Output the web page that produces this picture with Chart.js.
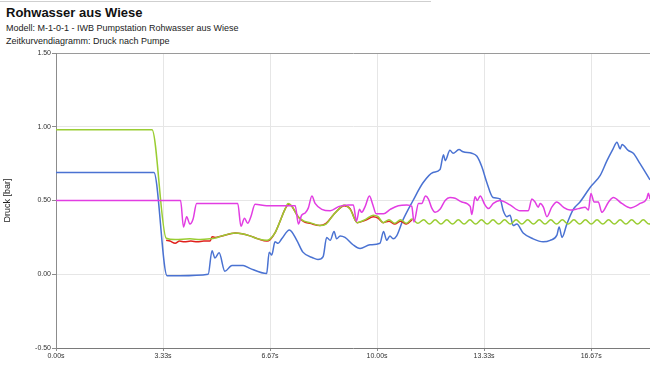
<!DOCTYPE html>
<html>
<head>
<meta charset="utf-8">
<script src="https://cdn.jsdelivr.net/npm/chart.js@4.4.1/dist/chart.umd.min.js"></script>
<style>
    body { margin: 0; background: #fff; font-family: "Liberation Sans", Arial, Helvetica, sans-serif; }
    #wrap { position: relative; width: 650px; height: 366px; overflow: hidden; }
    #topline { position: absolute; left: 0; top: 1px; width: 431px; height: 1px; background: #cfcfcf; }
    .titel { position: absolute; left: 6px; top: 5px; font-size: 13px; font-weight: bold; color: #111; white-space: nowrap; }
    .sub { position: absolute; left: 6px; font-size: 9px; color: #222; white-space: nowrap; }
    canvas { position: absolute; left: 0; top: 0; }
</style>
</head>
<body>
<div id="wrap">
    <div id="topline"></div>
    <div class="titel">Rohwasser aus Wiese</div>
    <div class="sub" style="top:23px">Modell: M-1-0-1 - IWB Pumpstation Rohwasser aus Wiese</div>
    <div class="sub" style="top:36px">Zeitkurvendiagramm: Druck nach Pumpe</div>
    <canvas id="druckChart" width="650" height="366"></canvas>
</div>
<script>
// Achsen
const zeitTicks = [0, 10 / 3, 20 / 3, 10, 40 / 3, 50 / 3];
const zeitLabels = ['0.00s', '3.33s', '6.67s', '10.00s', '13.33s', '16.67s'];
const druckTicks = [-0.5, 0, 0.5, 1, 1.5];

// Messreihen [Zeit s, Druck bar]
const gruen = [
    [0, 0.98], [2.99, 0.98], [3.43, 0.245], [3.71, 0.235], [4.17, 0.24], [4.49, 0.235], [4.80, 0.24],
    [4.95, 0.245], [5.17, 0.26], [5.58, 0.28], [5.79, 0.275], [6.04, 0.26], [6.29, 0.24], [6.57, 0.23],
    [6.67, 0.24], [6.82, 0.28], [6.98, 0.36], [7.13, 0.44], [7.23, 0.48], [7.35, 0.46], [7.54, 0.39],
    [7.73, 0.36], [7.91, 0.35], [8.22, 0.33], [8.41, 0.34], [8.63, 0.40], [8.85, 0.45], [8.97, 0.47],
    [9.16, 0.44], [9.38, 0.35], [9.63, 0.37], [9.88, 0.40], [10.03, 0.39], [10.19, 0.35],
    [10.37, 0.37], [10.55, 0.345], [10.73, 0.37], [10.91, 0.345], [11.09, 0.375], [11.27, 0.345],
    [11.45, 0.37], [11.63, 0.34], [11.81, 0.37], [11.99, 0.34], [12.17, 0.37], [12.35, 0.34],
    [12.53, 0.37], [12.71, 0.34], [12.89, 0.37], [13.07, 0.34], [13.25, 0.37], [13.43, 0.34],
    [13.61, 0.37], [13.79, 0.34], [13.97, 0.37], [14.15, 0.34], [14.33, 0.37], [14.51, 0.34],
    [14.69, 0.37], [14.87, 0.34], [15.05, 0.37], [15.23, 0.34], [15.41, 0.37], [15.59, 0.34],
    [15.77, 0.37], [15.95, 0.34], [16.13, 0.37], [16.31, 0.34], [16.49, 0.37], [16.67, 0.34],
    [16.85, 0.37], [17.03, 0.34], [17.21, 0.37], [17.39, 0.34], [17.57, 0.37], [17.75, 0.34],
    [17.93, 0.37], [18.11, 0.34], [18.29, 0.37], [18.47, 0.34], [18.65, 0.37]
];
const rot = [
    [3.43, 0.23], [3.55, 0.225], [3.71, 0.21], [3.85, 0.225], [4.0, 0.22],
    [4.2, 0.225], [4.4, 0.22], [4.6, 0.225], [4.80, 0.225], [4.86, 0.255], [4.95, 0.25], [5.17, 0.26],
    [5.58, 0.28], [5.79, 0.275], [6.04, 0.26], [6.29, 0.24], [6.57, 0.225], [6.67, 0.235], [6.82, 0.28],
    [6.98, 0.36], [7.13, 0.44], [7.25, 0.475], [7.35, 0.46], [7.54, 0.39], [7.73, 0.355], [7.91, 0.345],
    [8.22, 0.33], [8.41, 0.345], [8.63, 0.40], [8.85, 0.45], [8.97, 0.465], [9.16, 0.445], [9.38, 0.35],
    [9.63, 0.365], [9.88, 0.39], [10.03, 0.38], [10.19, 0.35], [10.37, 0.36], [10.55, 0.34],
    [10.73, 0.36], [10.91, 0.34], [11.09, 0.37]
];
const blau = [
    [0, 0.69], [3.05, 0.69], [3.46, -0.01], [3.86, -0.01], [4.74, 0.0], [4.86, 0.16], [4.95, 0.11],
    [5.08, 0.145], [5.26, 0.02], [5.48, 0.06], [5.83, 0.06], [6.04, 0.04], [6.56, 0.005], [6.64, 0.15],
    [6.72, 0.13], [6.82, 0.22], [6.92, 0.21], [7.03, 0.24], [7.27, 0.30], [7.50, 0.23], [7.69, 0.15],
    [8.01, 0.11], [8.16, 0.10], [8.32, 0.12], [8.43, 0.25], [8.54, 0.23], [8.66, 0.29], [8.74, 0.24],
    [8.85, 0.26], [9.00, 0.25], [9.25, 0.20], [9.47, 0.175], [9.78, 0.20], [10.09, 0.21], [10.20, 0.29],
    [10.30, 0.23], [10.40, 0.26], [10.50, 0.24], [10.61, 0.26], [10.81, 0.37], [11.12, 0.50],
    [11.43, 0.62], [11.74, 0.69], [11.96, 0.71], [12.07, 0.81], [12.12, 0.77], [12.27, 0.84],
    [12.37, 0.82], [12.55, 0.845], [12.68, 0.83], [12.95, 0.82], [13.11, 0.80], [13.26, 0.73],
    [13.42, 0.62], [13.61, 0.52], [13.83, 0.51], [13.93, 0.43], [14.04, 0.39], [14.14, 0.40],
    [14.24, 0.33], [14.35, 0.34], [14.55, 0.28], [14.86, 0.24], [15.17, 0.22], [15.39, 0.23],
    [15.60, 0.265], [15.67, 0.32], [15.76, 0.25], [15.91, 0.34], [16.11, 0.44], [16.32, 0.49],
    [16.64, 0.59], [16.95, 0.67], [17.16, 0.77], [17.35, 0.85], [17.47, 0.895], [17.57, 0.85],
    [17.63, 0.88], [17.82, 0.84], [17.98, 0.82], [18.19, 0.75], [18.50, 0.64]
];
const magenta = [
    [0, 0.50], [3.88, 0.50], [3.97, 0.32], [4.07, 0.39], [4.17, 0.34], [4.27, 0.375], [4.38, 0.48],
    [5.66, 0.48], [5.76, 0.325], [5.87, 0.38], [5.97, 0.345], [6.07, 0.39], [6.20, 0.475], [6.56, 0.465],
    [7.19, 0.465], [7.45, 0.465], [7.55, 0.34], [7.65, 0.40], [7.76, 0.415], [7.86, 0.45], [7.97, 0.53],
    [8.07, 0.48], [8.28, 0.44], [8.54, 0.43], [8.82, 0.46], [9.11, 0.47], [9.26, 0.47], [9.36, 0.36],
    [9.45, 0.44], [9.52, 0.42], [9.63, 0.46], [9.76, 0.53], [9.87, 0.47], [9.97, 0.41], [10.20, 0.41],
    [10.41, 0.44], [10.66, 0.465], [10.93, 0.47], [11.08, 0.46], [11.15, 0.355], [11.29, 0.48],
    [11.39, 0.48], [11.51, 0.53], [11.60, 0.51], [11.70, 0.45], [11.81, 0.42], [11.96, 0.44],
    [12.12, 0.50], [12.27, 0.52], [12.43, 0.515], [12.64, 0.49], [12.90, 0.46], [12.95, 0.405],
    [13.05, 0.525], [13.12, 0.50], [13.21, 0.53], [13.36, 0.47], [13.47, 0.445], [13.62, 0.48],
    [13.83, 0.50], [14.14, 0.47], [14.45, 0.43], [14.71, 0.43], [14.82, 0.51], [14.92, 0.49],
    [15.02, 0.455], [15.08, 0.48], [15.18, 0.455], [15.29, 0.39], [15.44, 0.455], [15.60, 0.49],
    [15.80, 0.455], [16.01, 0.435], [16.27, 0.445], [16.48, 0.455], [16.58, 0.435], [16.66, 0.547],
    [16.76, 0.49], [16.89, 0.49], [17.00, 0.42], [17.21, 0.49], [17.36, 0.52], [17.62, 0.48],
    [17.88, 0.45], [18.19, 0.48], [18.40, 0.513], [18.45, 0.55], [18.50, 0.51]
];

const achsenFarbe = '#8c8c8c';
const gitterFarbe = '#e6e6e6';
const schrift = '"Liberation Sans", Arial, Helvetica, sans-serif';

function reihe(punkte, farbe) {
    return {
        data: punkte.map(p => ({ x: p[0], y: p[1] })),
        borderColor: farbe,
        borderWidth: 1.5,
        pointRadius: 0,
        fill: false,
        cubicInterpolationMode: 'monotone'
    };
}

const ctx = document.getElementById('druckChart').getContext('2d');
new Chart(ctx, {
    type: 'line',
    data: {
        datasets: [
            reihe(magenta, '#e23de2'),
            reihe(gruen, '#9acd32'),
            reihe(rot, '#e0201c'),
            reihe(blau, '#4a72d2')
        ]
    },
    options: {
        responsive: false,
        animation: false,
        layout: { padding: { top: 53, right: 0, bottom: 0, left: 0 } },
        plugins: { legend: { display: false }, tooltip: { enabled: false }, title: { display: false } },
        scales: {
            x: {
                type: 'linear',
                min: 0,
                max: 18.5,
                afterBuildTicks: scale => { scale.ticks = zeitTicks.map(v => ({ value: v })); },
                afterFit: scale => { scale.height = 18; },
                grid: { color: gitterFarbe, tickColor: achsenFarbe, tickLength: 3 },
                border: { color: '#7a7a7a', width: 1 },
                ticks: {
                    autoSkip: false,
                    maxRotation: 0,
                    padding: 1,
                    color: '#333',
                    font: { family: schrift, size: 7 },
                    callback: (v, i) => zeitLabels[i]
                }
            },
            y: {
                min: -0.5,
                max: 1.5,
                afterBuildTicks: scale => { scale.ticks = druckTicks.map(v => ({ value: v })); },
                afterFit: scale => { scale.width = 56; },
                grid: {
                    color: c => (c.tick && c.tick.value === 1.5 ? '#9a9a9a' : gitterFarbe),
                    tickColor: achsenFarbe,
                    tickLength: 4
                },
                border: { color: achsenFarbe, width: 1 },
                title: {
                    display: true,
                    text: 'Druck [bar]',
                    color: '#222',
                    font: { family: schrift, size: 9 },
                    padding: { top: 2, bottom: 0 }
                },
                ticks: {
                    padding: 1,
                    color: '#333',
                    font: { family: schrift, size: 7 },
                    callback: v => v.toFixed(2)
                }
            }
        }
    }
});
</script>
</body>
</html>
